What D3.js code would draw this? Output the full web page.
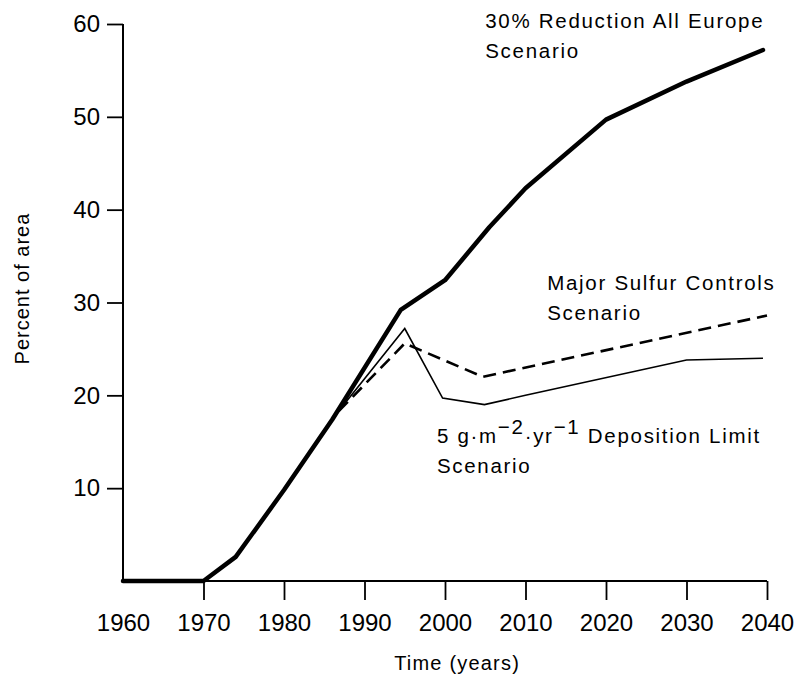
<!DOCTYPE html>
<html>
<head>
<meta charset="utf-8">
<script src="https://cdn.jsdelivr.net/npm/d3@7"></script>
<style>
  body { margin: 0; background: #fff; }
  svg { display: block; font-family: "Liberation Sans", Arial, sans-serif; }
</style>
</head>
<body>
<svg id="chart" width="795" height="681"></svg>
<script>
// data
const xTicks = [1960, 1970, 1980, 1990, 2000, 2010, 2020, 2030, 2040];
const yTicks = [10, 20, 30, 40, 50, 60];

const reductionYears  = [1960, 1970, 1974, 1980, 1986, 1994.5, 2000, 2005.5, 2010, 2020, 2030, 2039.5];
const reductionValues = [0, 0, 2.6, 9.8, 17.4, 29.2, 32.4, 38.1, 42.3, 49.7, 53.8, 57.2];

const sulfurYears  = [1986.8, 1995, 2004.7, 2040];
const sulfurValues = [18.3, 25.6, 22.0, 28.6];

const depositionYears  = [1986.8, 1995, 1999.7, 2004.9, 2010, 2030, 2039.5];
const depositionValues = [18.3, 27.2, 19.7, 19.0, 20.0, 23.8, 24.0];

const labelTexts = ['30% Reduction All Europe', 'Major Sulfur Controls', 'DEPOSITION'];
const labelYears = [2005.0, 2012.7, 1999.0];
const labelValues = [59.6, 31.3, 14.9];

const svg = d3.select('#chart');
const margin = { top: 24, right: 28, bottom: 100, left: 123 };
const width = 795 - margin.left - margin.right;
const height = 681 - margin.top - margin.bottom;

const x = d3.scaleLinear().domain([1960, 2040]).range([0, width]);
const y = d3.scaleLinear().domain([0, 60]).range([height, 0]);

const g = svg.append('g').attr('transform', `translate(${margin.left},${margin.top})`);

// axes
const xAxis = g.append('g')
    .attr('transform', `translate(0,${height})`)
    .call(d3.axisBottom(x).tickValues(xTicks).tickSize(19).tickPadding(14).tickFormat(d3.format('d')));
const yAxis = g.append('g')
    .call(d3.axisLeft(y).tickValues(yTicks).tickSize(16).tickPadding(7));

[xAxis, yAxis].forEach(a => {
    a.select('.domain').remove();
    a.selectAll('.tick line').attr('stroke', '#000').attr('stroke-width', 1.8);
    a.selectAll('.tick text').attr('fill', '#000').attr('font-size', 24)
        .attr('font-family', '"Liberation Sans", Arial, sans-serif');
});
// no tick mark under the corner at 1960
xAxis.selectAll('.tick').filter(d => d === 1960).select('line').remove();

g.append('line').attr('x1', x(1960)).attr('x2', x(2040)).attr('y1', y(0)).attr('y2', y(0))
    .attr('stroke', '#000').attr('stroke-width', 2);
g.append('line').attr('x1', x(1960)).attr('x2', x(1960)).attr('y1', y(0)).attr('y2', y(60))
    .attr('stroke', '#000').attr('stroke-width', 2);

// axis titles
svg.append('text')
    .attr('x', margin.left + x(2001.5)).attr('y', 670)
    .attr('text-anchor', 'middle').attr('font-size', 20).attr('letter-spacing', 1.2)
    .text('Time (years)');
svg.append('text')
    .attr('transform', `translate(29,${margin.top + y(31.5)}) rotate(-90)`)
    .attr('text-anchor', 'middle').attr('font-size', 20).attr('letter-spacing', 1)
    .text('Percent of area');

// lines
const line = d3.line().x(d => x(d[0])).y(d => y(d[1]));
const zip = (a, b) => a.map((v, i) => [v, b[i]]);

g.append('path').datum(zip(sulfurYears, sulfurValues))
    .attr('d', line).attr('fill', 'none').attr('stroke', '#000')
    .attr('stroke-width', 2.6).attr('stroke-dasharray', '13,7');
g.append('path').datum(zip(depositionYears, depositionValues))
    .attr('d', line).attr('fill', 'none').attr('stroke', '#000')
    .attr('stroke-width', 1.6).attr('stroke-linejoin', 'miter');
g.append('path').datum(zip(reductionYears, reductionValues))
    .attr('d', line).attr('fill', 'none').attr('stroke', '#000')
    .attr('stroke-width', 4.5).attr('stroke-linejoin', 'round').attr('stroke-linecap', 'round');

// scenario labels
labelTexts.forEach((t, i) => {
    const tx = x(labelYears[i]);
    const ty = y(labelValues[i]);
    const txt = g.append('text').attr('x', tx).attr('y', ty)
        .attr('font-size', 20.5).attr('letter-spacing', 1.7).attr('fill', '#000');
    if (t === 'DEPOSITION') {
        txt.append('tspan').text('5 g·m');
        txt.append('tspan').attr('dy', -9).text('−2');
        txt.append('tspan').attr('dy', 9).text('·yr');
        txt.append('tspan').attr('dy', -9).text('−1');
        txt.append('tspan').attr('dy', 9).text(' Deposition Limit');
    } else {
        txt.text(t);
    }
    g.append('text').attr('x', tx).attr('y', ty + 30)
        .attr('font-size', 20.5).attr('letter-spacing', 1.7).attr('fill', '#000')
        .text('Scenario');
});
</script>
</body>
</html>
